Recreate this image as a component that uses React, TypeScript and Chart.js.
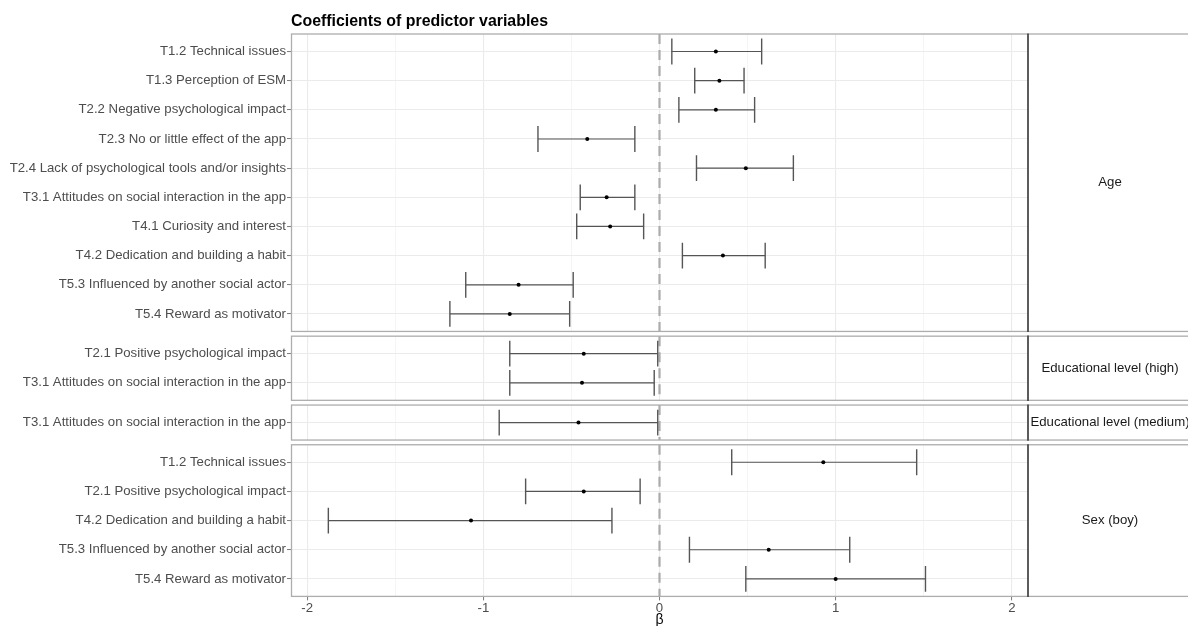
import React, { useEffect, useRef } from 'react';
import { Chart, registerables } from 'chart.js';

Chart.register(...registerables);

// ---------- data ----------
const chartTitle = 'Coefficients of predictor variables';
const xAxisTitle = 'β';
const panelNames = ['Age', 'Educational level (high)', 'Educational level (medium)', 'Sex (boy)'];

const ageLabels = [
  'T1.2 Technical issues',
  'T1.3 Perception of ESM',
  'T2.2 Negative psychological impact',
  'T2.3 No or little effect of the app',
  'T2.4 Lack of psychological tools and/or insights',
  'T3.1 Attitudes on social interaction in the app',
  'T4.1 Curiosity and interest',
  'T4.2 Dedication and building a habit',
  'T5.3 Influenced by another social actor',
  'T5.4 Reward as motivator',
];
const ageEst = [0.32, 0.34, 0.32, -0.41, 0.49, -0.3, -0.28, 0.36, -0.8, -0.85];
const ageLo = [0.07, 0.2, 0.11, -0.69, 0.21, -0.45, -0.47, 0.13, -1.1, -1.19];
const ageHi = [0.58, 0.48, 0.54, -0.14, 0.76, -0.14, -0.09, 0.6, -0.49, -0.51];

const eduHighLabels = [
  'T2.1 Positive psychological impact',
  'T3.1 Attitudes on social interaction in the app',
];
const eduHighEst = [-0.43, -0.44];
const eduHighLo = [-0.85, -0.85];
const eduHighHi = [-0.01, -0.03];

const eduMedLabels = ['T3.1 Attitudes on social interaction in the app'];
const eduMedEst = [-0.46];
const eduMedLo = [-0.91];
const eduMedHi = [-0.01];

const sexLabels = [
  'T1.2 Technical issues',
  'T2.1 Positive psychological impact',
  'T4.2 Dedication and building a habit',
  'T5.3 Influenced by another social actor',
  'T5.4 Reward as motivator',
];
const sexEst = [0.93, -0.43, -1.07, 0.62, 1.0];
const sexLo = [0.41, -0.76, -1.88, 0.17, 0.49];
const sexHi = [1.46, -0.11, -0.27, 1.08, 1.51];

const xMajorTicks = [-2, -1, 0, 1, 2];
const xMinorTicks = [-1.5, -0.5, 0.5, 1.5];

// ---------- layout constants ----------
const W = 1188;
const H = 626;
const FONT = '"Liberation Sans", Arial, Helvetica, sans-serif';
const ROW_PAD = 0.6; // discrete expansion per side (ggplot style)
const GAP = 0.162; // gap between facets in row units
const RIGHT_PAD = 160; // room for facet strips
const STRIP_W = 164;

type Panel = { name: string; labels: string[]; est: number[]; lo: number[]; hi: number[] };
const panels: Panel[] = [
  { name: panelNames[0], labels: ageLabels, est: ageEst, lo: ageLo, hi: ageHi },
  { name: panelNames[1], labels: eduHighLabels, est: eduHighEst, lo: eduHighLo, hi: eduHighHi },
  { name: panelNames[2], labels: eduMedLabels, est: eduMedEst, lo: eduMedLo, hi: eduMedHi },
  { name: panelNames[3], labels: sexLabels, est: sexEst, lo: sexLo, hi: sexHi },
];

type Row = { label: string; pos: number; est: number; lo: number; hi: number };
const rows: Row[] = [];
const panelBounds: { start: number; end: number; name: string }[] = [];
{
  let cursor = 0;
  panels.forEach((p) => {
    const start = cursor;
    p.labels.forEach((lab, i) => {
      rows.push({ label: lab, pos: start + ROW_PAD + i, est: p.est[i], lo: p.lo[i], hi: p.hi[i] });
    });
    const end = start + p.labels.length - 1 + 2 * ROW_PAD;
    panelBounds.push({ start, end, name: p.name });
    cursor = end + GAP;
  });
}
const yMax = panelBounds[panelBounds.length - 1].end;

const facetPlugin = {
  id: 'facets',
  beforeDatasetsDraw(chart: any) {
    const { ctx, chartArea: ca, scales } = chart;
    const x = scales.x;
    const y = scales.y;
    ctx.save();
    // clear gaps between facets
    ctx.fillStyle = '#ffffff';
    for (let i = 0; i < panelBounds.length - 1; i++) {
      const y0 = y.getPixelForValue(panelBounds[i].end);
      const y1 = y.getPixelForValue(panelBounds[i + 1].start);
      ctx.fillRect(ca.left - 1, y0, ca.right - ca.left + 2 + STRIP_W, y1 - y0);
    }
    // dashed zero line per facet
    const x0 = x.getPixelForValue(0);
    ctx.strokeStyle = '#ababab';
    ctx.lineWidth = 2.2;
    ctx.setLineDash([10, 6]);
    panelBounds.forEach((b) => {
      ctx.beginPath();
      ctx.moveTo(x0, y.getPixelForValue(b.start));
      ctx.lineTo(x0, y.getPixelForValue(b.end));
      ctx.stroke();
    });
    ctx.setLineDash([]);
    ctx.restore();
  },
  afterDraw(chart: any) {
    const { ctx, chartArea: ca, scales } = chart;
    const y = scales.y;
    ctx.save();
    // panel and strip borders
    ctx.strokeStyle = '#adadad';
    ctx.lineWidth = 1.3;
    panelBounds.forEach((b) => {
      const t = y.getPixelForValue(b.start);
      const bt = y.getPixelForValue(b.end);
      ctx.strokeRect(ca.left + 0.5, t, ca.right + STRIP_W - ca.left, bt - t);
    });
    // dark separator between panel and strip
    ctx.strokeStyle = '#4a4a4a';
    ctx.lineWidth = 1.8;
    panelBounds.forEach((b) => {
      ctx.beginPath();
      ctx.moveTo(ca.right, y.getPixelForValue(b.start) - 0.6);
      ctx.lineTo(ca.right, y.getPixelForValue(b.end) + 0.6);
      ctx.stroke();
    });
    // strip labels
    ctx.fillStyle = '#1a1a1a';
    ctx.font = `13.2px ${FONT}`;
    ctx.textAlign = 'center';
    ctx.textBaseline = 'middle';
    const sx = ca.right + STRIP_W / 2;
    panelBounds.forEach((b) => {
      const cy = (y.getPixelForValue(b.start) + y.getPixelForValue(b.end)) / 2;
      ctx.fillText(b.name, sx, cy);
    });
    // title
    ctx.fillStyle = '#000000';
    ctx.font = `bold 15.9px ${FONT}`;
    ctx.textAlign = 'left';
    ctx.textBaseline = 'alphabetic';
    ctx.fillText(chartTitle, ca.left, 26);
    ctx.restore();
  },
};

export default function App() {
  const ref = useRef<HTMLCanvasElement | null>(null);

  useEffect(() => {
    document.body.style.margin = '0';
    const canvas = ref.current;
    if (!canvas) return;

    const barColor = '#555555';
    const barDatasets = rows.map((r) => ({
      type: 'line' as const,
      data: [
        { x: r.lo, y: r.pos },
        { x: r.hi, y: r.pos },
      ],
      borderColor: barColor,
      borderWidth: 1.2,
      showLine: true,
      fill: false,
      pointStyle: 'line' as const,
      pointRotation: 90,
      pointRadius: 12.9,
      pointHoverRadius: 12.9,
      pointBorderColor: barColor,
      pointBorderWidth: 1.4,
      order: 1,
    }));

    const pointDataset = {
      type: 'scatter' as const,
      data: rows.map((r) => ({ x: r.est, y: r.pos })),
      backgroundColor: '#000000',
      borderWidth: 0,
      pointRadius: 2,
      pointHoverRadius: 2,
      order: 0,
    };

    const tickFont = { family: FONT, size: 13.2 };

    const chart = new Chart(canvas, {
      type: 'scatter',
      data: { datasets: [...barDatasets, pointDataset] as any },
      options: {
        animation: false,
        responsive: false,
        maintainAspectRatio: false,
        events: [],
        layout: { padding: { top: 34, right: RIGHT_PAD, bottom: 0, left: 0 } },
        plugins: {
          legend: { display: false },
          tooltip: { enabled: false },
          title: { display: false },
        },
        scales: {
          x: {
            type: 'linear',
            min: -2.092,
            max: 2.092,
            afterBuildTicks: (s: any) => {
              s.ticks = [...xMajorTicks, ...xMinorTicks]
                .sort((a, b) => a - b)
                .map((v) => ({ value: v }));
            },
            afterFit: (s: any) => {
              s.height = 29.6;
            },
            ticks: {
              autoSkip: false,
              maxRotation: 0,
              padding: 0,
              color: '#4d4d4d',
              font: tickFont,
              callback: (v: any) => (xMajorTicks.includes(Number(v)) ? String(v) : ''),
            },
            grid: {
              color: (c: any) => (xMajorTicks.includes(c.tick?.value) ? '#ebebeb' : '#f3f3f3'),
              lineWidth: (c: any) => (xMajorTicks.includes(c.tick?.value) ? 1.1 : 0.8),
              drawTicks: true,
              tickLength: 4,
              tickColor: (c: any) => (xMajorTicks.includes(c.tick?.value) ? '#7a7a7a' : 'rgba(0,0,0,0)'),
              tickWidth: 1,
            },
            border: { display: false },
            title: {
              display: true,
              text: xAxisTitle,
              color: '#000000',
              font: { family: FONT, size: 14, lineHeight: 1 },
              padding: { top: 0, bottom: -1 },
            },
          },
          y: {
            type: 'linear',
            reverse: true,
            min: 0,
            max: yMax,
            afterBuildTicks: (s: any) => {
              s.ticks = rows.map((r) => ({ value: r.pos }));
            },
            afterFit: (s: any) => {
              s.width = 291;
            },
            ticks: {
              autoSkip: false,
              padding: 1,
              color: '#4d4d4d',
              font: tickFont,
              callback: (_v: any, i: number) => rows[i]?.label ?? '',
            },
            grid: {
              color: '#ebebeb',
              lineWidth: 1.1,
              drawTicks: true,
              tickLength: 4,
              tickColor: '#7a7a7a',
              tickWidth: 1,
            },
            border: { display: false },
          },
        },
      },
      plugins: [facetPlugin],
    } as any);

    return () => chart.destroy();
  }, []);

  return (
    <div style={{ position: 'absolute', left: 0, top: 0, width: W, height: H, background: '#ffffff' }}>
      <canvas ref={ref} width={W} height={H} style={{ width: W, height: H, display: 'block' }} />
    </div>
  );
}
